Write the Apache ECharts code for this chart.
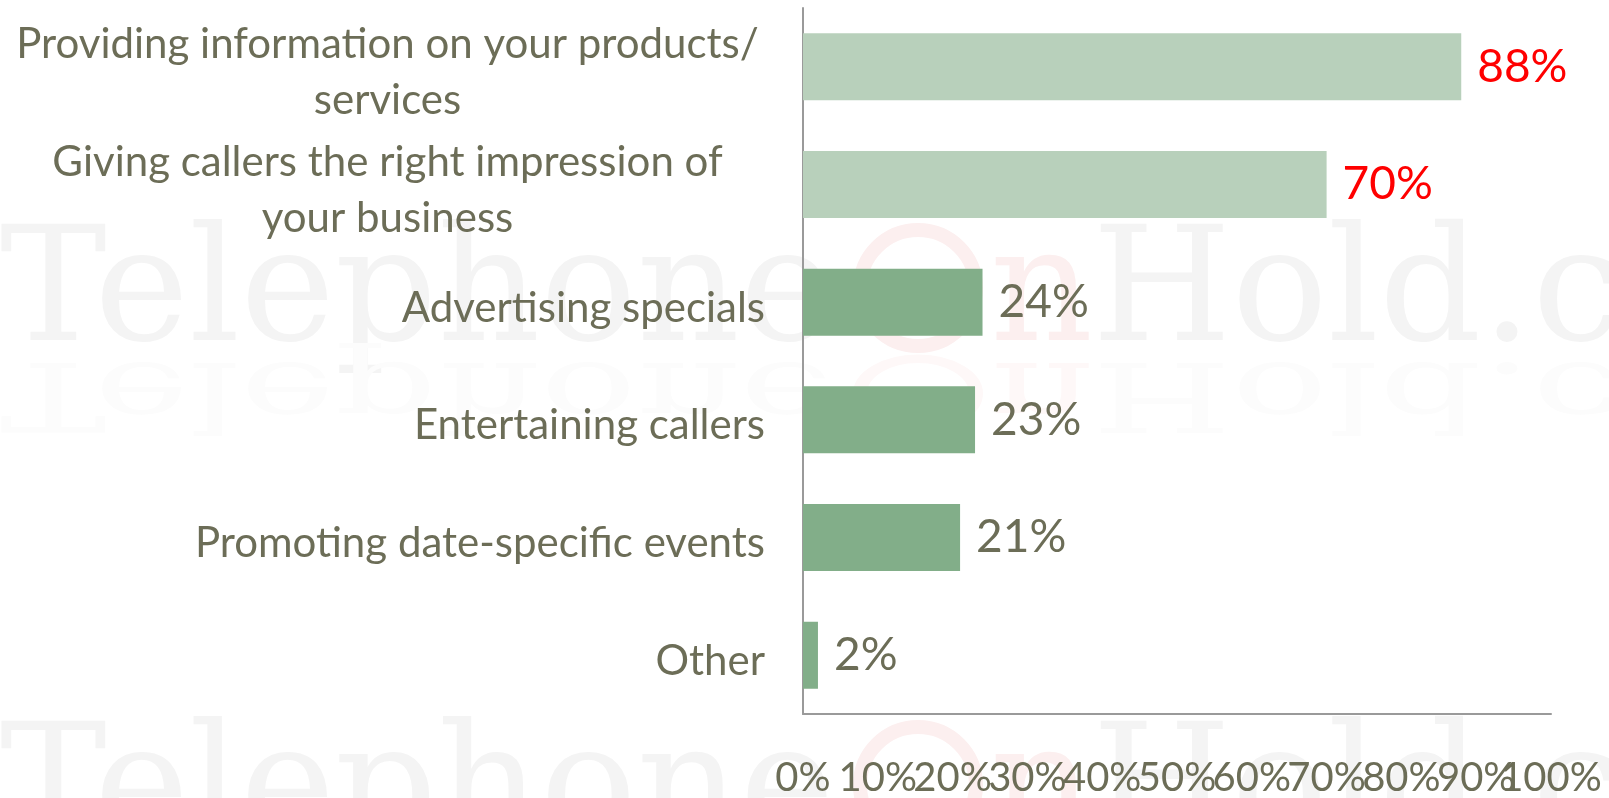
<!DOCTYPE html>
<html>
<head>
<meta charset="utf-8">
<script src="https://cdn.jsdelivr.net/npm/echarts@6/dist/echarts.min.js"></script>
<style>
  html, body { margin: 0; padding: 0; background: #fff; }
  #chart { width: 1609px; height: 798px; }
</style>
</head>
<body>
<div id="chart"></div>
<script>
  // data (top to bottom as in the picture)
  const categories = [
    'Providing information on your products/\nservices',
    'Giving callers the right impression of\nyour business',
    'Advertising specials',
    'Entertaining callers',
    'Promoting date-specific events',
    'Other'
  ]
  const values = [88, 70, 24, 23, 21, 2]
  const highlighted = [true, true, false, false, false, false]
  const xTicks = [0, 10, 20, 30, 40, 50, 60, 70, 80, 90, 100]

  const FONT = 'Lato'
  const TEXT = '#6c6d57'

  let chart = echarts.init(document.getElementById('chart'))

  // ECharts draws category axis bottom-up, so reverse
  const cats = categories.slice().reverse()
  const hiRev = highlighted.slice().reverse()
  const data = values.slice().reverse().map((v, i) => ({
    value: v,
    itemStyle: { color: hiRev[i] ? '#b8d0bb' : '#82ae89' },
    label: { color: hiRev[i] ? '#ff0000' : TEXT }
  }))

  // faint "TelephoneOnHold.com" watermark, plus its mirrored reflection
  function mark (y, fill, red, flip) {
    let f = '160px "DejaVu Serif"'
    let base = { z: -10, silent: true }
    let t = flip ? { scaleY: -0.6, originY: 136 } : {}
    return [
      Object.assign({ type: 'text', x: 0, y: y, style: { text: 'Telephone', font: f, fill: fill } }, base, t),
      Object.assign({ type: 'circle', x: 0, y: y, shape: { cx: 918, cy: 70, r: 58 },
        style: { fill: 'none', stroke: red, lineWidth: 14 } }, base, t),
      Object.assign({ type: 'text', x: 990, y: y, style: { text: 'n', font: f, fill: red } }, base, t),
      Object.assign({ type: 'text', x: 1092, y: y, style: { text: 'Hold.c', font: f, fill: fill } }, base, t)
    ]
  }

  const xLabelStyle = {
    margin: 44,
    fontFamily: FONT,
    fontSize: 40,
    color: TEXT,
    hideOverlap: false
  }

  chart.setOption({
    animation: false,
    graphic: [].concat(
      mark(218, '#f4f4f4', '#fcefef', false),
      mark(218, '#fcfcfc', '#fef8f8', true),
      mark(715, '#f4f4f4', '#fcefef', false)
    ),
    grid: {
      left: 803,
      right: 58,
      top: 8,
      bottom: 80,
      containLabel: false
    },
    // two axes on the same scale: the 100% label sits on its own axis so
    // the overlapping neighbours are all kept, as in the original
    xAxis: [{
      type: 'value',
      min: 0,
      max: 100,
      interval: 10,
      splitLine: { show: false },
      axisLine: { show: true, lineStyle: { color: '#9a9a9a', width: 2 } },
      axisTick: { show: false },
      axisLabel: Object.assign({
        showMinLabel: true,
        showMaxLabel: true,
        formatter: v => (xTicks.indexOf(v) >= 0 && v < 100) ? v + '%' : ''
      }, xLabelStyle)
    }, {
      type: 'value',
      position: 'bottom',
      min: 0,
      max: 100,
      interval: 10,
      splitLine: { show: false },
      axisLine: { show: false },
      axisTick: { show: false },
      axisLabel: Object.assign({
        showMinLabel: true,
        showMaxLabel: true,
        formatter: v => v === xTicks[xTicks.length - 1] ? v + '%' : ''
      }, xLabelStyle)
    }],
    yAxis: {
      type: 'category',
      data: cats,
      axisLine: { show: true, lineStyle: { color: '#9a9a9a', width: 2 } },
      axisTick: { show: false },
      axisLabel: {
        margin: 38,
        interval: 0,
        hideOverlap: false,
        fontFamily: FONT,
        fontSize: 42,
        color: TEXT,
        lineHeight: 56,
        padding: [12, 0, 0, 0],
        formatter: v => {
          if (v.indexOf('\n') < 0) return v
          return v.split('\n').map(s => '{c|' + s + '}').join('\n')
        },
        rich: {
          c: { width: 755, align: 'center', fontFamily: FONT, fontSize: 42, color: TEXT, lineHeight: 56 }
        }
      }
    },
    series: [{
      type: 'bar',
      data: data,
      barCategoryGap: '43%',
      label: {
        show: true,
        position: 'right',
        distance: 16,
        fontFamily: FONT,
        fontSize: 46,
        formatter: p => p.value + '%'
      }
    }]
  })
</script>
</body>
</html>
